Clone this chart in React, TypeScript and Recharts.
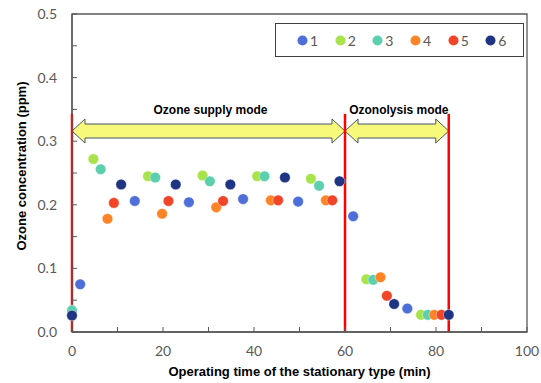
import React from "react";
import {
  ScatterChart,
  Scatter,
  XAxis,
  YAxis,
  ReferenceLine,
  ReferenceArea,
  Legend,
} from "recharts";

// sampling times (min) and ozone concentration (ppm) for each run
const run1Time = [1.8, 13.8, 25.7, 37.6, 49.7, 61.8, 73.7];
const run1Ppm = [0.075, 0.206, 0.204, 0.209, 0.205, 0.182, 0.037];
const run2Time = [4.7, 16.7, 28.7, 40.7, 52.5, 64.7, 76.7];
const run2Ppm = [0.272, 0.245, 0.246, 0.245, 0.241, 0.083, 0.027];
const run3Time = [0, 6.3, 18.3, 30.3, 42.3, 54.3, 66.2, 78.2];
const run3Ppm = [0.034, 0.256, 0.243, 0.237, 0.245, 0.23, 0.082, 0.027];
const run4Time = [7.8, 19.8, 31.7, 43.7, 55.8, 67.8, 79.6];
const run4Ppm = [0.178, 0.186, 0.196, 0.207, 0.207, 0.086, 0.027];
const run5Time = [9.2, 21.2, 33.2, 45.3, 57.2, 69.2, 81.2];
const run5Ppm = [0.203, 0.206, 0.206, 0.207, 0.207, 0.057, 0.027];
const run6Time = [0, 10.8, 22.8, 34.8, 46.8, 58.8, 70.8, 82.8];
const run6Ppm = [0.026, 0.232, 0.232, 0.232, 0.243, 0.237, 0.044, 0.027];

const runNames = ["1", "2", "3", "4", "5", "6"];
const runColors = ["#4f6fd8", "#a8e34c", "#5ccfae", "#ff8427", "#f04528", "#1f3482"];

const modeNames = ["Ozone supply mode", "Ozonolysis mode"];
const modeStart = [0, 60];
const modeEnd = [60, 82.8];
const arrowLow = 0.305;
const arrowHigh = 0.327;
const redLineTop = 0.343;

const xTicks = [0, 10, 20, 30, 40, 50, 60, 70, 80, 90, 100];
const yTicks = [0, 0.05, 0.1, 0.15, 0.2, 0.25, 0.3, 0.35, 0.4, 0.45, 0.5];

const runs = [
  [run1Time, run1Ppm],
  [run2Time, run2Ppm],
  [run3Time, run3Ppm],
  [run4Time, run4Ppm],
  [run5Time, run5Ppm],
  [run6Time, run6Ppm],
].map(([t, p]) => t.map((time, i) => ({ time, ppm: p[i] })));

const AXIS = "#595959";
const TITLE_FONT = "'Liberation Sans', Arial, sans-serif";

const XTick = ({ x, y, payload }: any) => {
  if (payload.value % 20 !== 0) return null;
  return (
    <text x={x} y={y} dy={19} textAnchor="middle" fill={AXIS} fontSize={14} fontFamily="Lato, sans-serif">
      {payload.value}
    </text>
  );
};

const YTick = ({ x, y, payload }: any) => {
  if (Math.round(payload.value * 100) % 10 !== 0) return null;
  return (
    <text x={x} y={y} dy={5} textAnchor="end" fill={AXIS} fontSize={14} fontFamily="Lato, sans-serif">
      {payload.value.toFixed(1)}
    </text>
  );
};

const Dot = ({ cx, cy, fill }: any) => (
  <circle cx={cx} cy={cy} r={5.3} fill={fill} stroke="#ffffff" strokeOpacity={0.5} strokeWidth={0.8} />
);

const DoubleArrow = ({ x, y, width, height, title }: any) => {
  const mid = y + height / 2;
  const half = height / 2;
  const headH = half + 5;
  const headL = 13;
  const a = x;
  const b = x + width;
  const pts = [
    [a, mid],
    [a + headL, mid - headH],
    [a + headL, mid - half],
    [b - headL, mid - half],
    [b - headL, mid - headH],
    [b, mid],
    [b - headL, mid + headH],
    [b - headL, mid + half],
    [a + headL, mid + half],
    [a + headL, mid + headH],
  ]
    .map((p) => p.join(","))
    .join(" ");
  return (
    <g>
      <polygon points={pts} fill="#f7f97a" stroke="#44546a" strokeWidth={1} />
      <text
        x={a + width / 2 + 2}
        y={mid - 17}
        textAnchor="middle"
        fontSize={12}
        fontWeight="bold"
        fill="#000"
        fontFamily={TITLE_FONT}
      >
        {title}
      </text>
    </g>
  );
};

const YTitle = ({ viewBox }: any) => {
  const cx = viewBox.x + 4;
  const cy = viewBox.y + viewBox.height / 2 - 7;
  return (
    <text
      x={cx}
      y={cy}
      transform={`rotate(-90 ${cx} ${cy})`}
      textAnchor="middle"
      fontSize={13}
      fontWeight="bold"
      fill="#000"
      fontFamily={TITLE_FONT}
    >
      Ozone concentration  (ppm)
    </text>
  );
};

const LegendBox = ({ payload }: any) => (
  <div
    style={{
      boxSizing: "border-box",
      width: 249,
      height: 34,
      border: "1.5px solid #404040",
      display: "flex",
      alignItems: "center",
      paddingLeft: 21,
      background: "#fff",
    }}
  >
    {(payload || []).map((p: any) => (
      <div key={p.value} style={{ display: "flex", alignItems: "center", width: 38.5 }}>
        <svg width={11} height={11}>
          <circle cx={5.5} cy={5.5} r={5} fill={p.color} />
        </svg>
        <span style={{ color: AXIS, fontSize: 14, marginLeft: 2, fontFamily: "Lato, sans-serif" }}>{p.value}</span>
      </div>
    ))}
  </div>
);

export default function App() {
  return (
    <div style={{ position: "absolute", left: 0, top: 0, background: "#fff" }}>
      <ScatterChart width={541} height={383} margin={{ top: 14, right: 14, bottom: 21, left: 22 }}>
        <XAxis
          type="number"
          dataKey="time"
          domain={[0, 100]}
          ticks={xTicks}
          interval={0}
          tickSize={-5}
          tickMargin={10}
          tick={<XTick />}
          height={30}
          axisLine={{ stroke: AXIS, strokeWidth: 1.3 }}
          tickLine={{ stroke: AXIS }}
          label={{
            value: "Operating time of the stationary type  (min)",
            position: "insideBottom",
            offset: -14,
            fill: "#000",
            fontSize: 13,
            fontWeight: "bold",
            fontFamily: TITLE_FONT,
          }}
        />
        <YAxis
          type="number"
          dataKey="ppm"
          domain={[0, 0.5]}
          ticks={yTicks}
          interval={0}
          tickSize={-5}
          tickMargin={20}
          tick={<YTick />}
          width={50}
          axisLine={{ stroke: AXIS, strokeWidth: 1.3 }}
          tickLine={{ stroke: AXIS }}
          label={{ content: <YTitle /> }}
        />
        <ReferenceArea x1={0} x2={100} y1={0} y2={0.5} fill="none" stroke={AXIS} strokeWidth={1.3} />
        {[modeStart[0], modeEnd[0], modeEnd[1]].map((v) => (
          <ReferenceLine
            key={v}
            segment={[
              { x: v, y: 0 },
              { x: v, y: redLineTop },
            ]}
            stroke="#ff0000"
            strokeWidth={2.5}
          />
        ))}
        {modeNames.map((name, i) => (
          <ReferenceArea
            key={name}
            x1={modeStart[i]}
            x2={modeEnd[i]}
            y1={arrowLow}
            y2={arrowHigh}
            shape={(p: any) => <DoubleArrow {...p} title={name} />}
          />
        ))}
        <Legend
          layout="horizontal"
          align="center"
          verticalAlign="middle"
          content={<LegendBox />}
          wrapperStyle={{ position: "absolute", left: 275, top: 23, width: 249, height: 34 }}
        />
        {runs.map((data, i) => (
          <Scatter
            key={runNames[i]}
            name={runNames[i]}
            data={data}
            fill={runColors[i]}
            shape={<Dot />}
            isAnimationActive={false}
          />
        ))}
      </ScatterChart>
    </div>
  );
}
